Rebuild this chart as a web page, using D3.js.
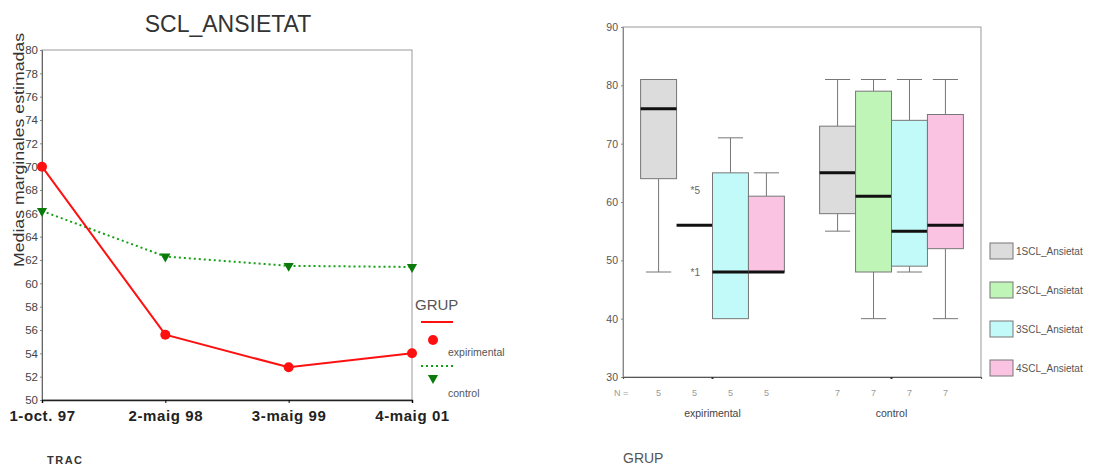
<!DOCTYPE html>
<html>
<head>
<meta charset="utf-8">
<script src="https://cdn.jsdelivr.net/npm/d3@7"></script>
<style>
  body { margin: 0; background: #fff; }
  svg { display: block; font-family: "Liberation Sans", Arial, sans-serif; }
</style>
</head>
<body>
<svg id="chart" width="1117" height="470"></svg>
<script>
// ---- data: left chart (estimated marginal means) ----
const trac = ["1-oct. 97", "2-maig 98", "3-maig 99", "4-maig 01"];
const expMeans = [70.0, 55.6, 52.8, 54.0];
const ctrlMeans = [66.2, 62.3, 61.5, 61.4];
const meanTicks = d3.range(50, 81, 2);

// ---- data: right chart (boxplots) ----
const groups = ["expirimental", "control"];
const scales = ["1SCL_Ansietat", "2SCL_Ansietat", "3SCL_Ansietat", "4SCL_Ansietat"];
// [low whisker, q1, median, q3, high whisker]
const expStats = [[48, 64, 76, 81, 81], [56, 56, 56, 56, 56], [40, 40, 48, 65, 71], [48, 48, 48, 61, 65]];
const ctrlStats = [[55, 58, 65, 73, 81], [40, 48, 61, 79, 81], [48, 49, 55, 74, 81], [40, 52, 56, 75, 81]];
const groupCounts = [[5, 5, 5, 5], [7, 7, 7, 7]];
const outlierValues = [62, 48];
const outlierCases = ["5", "1"];
const boxTicks = [30, 40, 50, 60, 70, 80, 90];
const boxColors = ["#dcdcdc", "#bff5b6", "#c2fafa", "#fbc3e2"];

var svg = d3.select("#chart");

// ================= left chart =================
var L = { left: 42, right: 412, top: 50, bottom: 400 };
var x = d3.scalePoint().domain(trac).range([L.left, L.right]).padding(0);
var y = d3.scaleLinear().domain([50, 80]).range([L.bottom, L.top]);

svg.append("text")
    .attr("x", 228).attr("y", 32)
    .attr("text-anchor", "middle")
    .style("font-size", "23px").style("fill", "#333")
    .text("SCL_ANSIETAT");

// frame
svg.append("rect")
    .attr("x", L.left).attr("y", L.top)
    .attr("width", L.right - L.left).attr("height", L.bottom - L.top)
    .attr("fill", "none").attr("stroke", "#999").attr("stroke-width", 1);

var yAxisL = svg.append("g")
    .attr("transform", `translate(${L.left},0)`)
    .call(d3.axisLeft(y).tickValues(meanTicks).tickSize(2).tickPadding(2));
yAxisL.select(".domain").attr("stroke", "#666");
yAxisL.selectAll("text").style("font-size", "11.5px").style("fill", "#444");
yAxisL.selectAll("line").attr("stroke", "#888");

var xAxisL = svg.append("g")
    .attr("transform", `translate(0,${L.bottom})`)
    .call(d3.axisBottom(x).tickSize(3).tickPadding(7));
xAxisL.select(".domain").attr("stroke", "#222").attr("stroke-width", 1.5);
xAxisL.selectAll("text")
    .style("font-size", "15px").style("font-weight", "bold")
    .style("letter-spacing", "0.6px").style("fill", "#222");

svg.append("text")
    .attr("transform", "translate(24,150) rotate(-90)")
    .attr("text-anchor", "middle")
    .attr("textLength", 234).attr("lengthAdjust", "spacingAndGlyphs")
    .style("font-size", "14px").style("fill", "#333")
    .text("Medias marginales estimadas");

svg.append("text")
    .attr("x", 47).attr("y", 464)
    .style("font-size", "11px").style("font-weight", "bold")
    .style("letter-spacing", "1.5px").style("fill", "#333")
    .text("TRAC");

var line = d3.line().x((d, i) => x(trac[i])).y(d => y(d));

svg.append("path").datum(ctrlMeans)
    .attr("d", line).attr("fill", "none")
    .attr("stroke", "#14a014").attr("stroke-width", 2).attr("stroke-dasharray", "2,3");
svg.append("path").datum(expMeans)
    .attr("d", line).attr("fill", "none")
    .attr("stroke", "#ff1010").attr("stroke-width", 2);

var tri = d3.symbol().type(d3.symbolTriangle).size(45);
svg.selectAll(".ctrlPt").data(ctrlMeans).enter().append("path")
    .attr("d", tri)
    .attr("transform", (d, i) => `translate(${x(trac[i])},${y(d)}) rotate(180)`)
    .attr("fill", "#0a7a0a");
svg.selectAll(".expPt").data(expMeans).enter().append("circle")
    .attr("cx", (d, i) => x(trac[i])).attr("cy", d => y(d)).attr("r", 5)
    .attr("fill", "#ff1010");

// legend
var lg = svg.append("g");
lg.append("text").attr("x", 415).attr("y", 310)
    .style("font-size", "15px").style("fill", "#555").text("GRUP");
lg.append("line").attr("x1", 421).attr("x2", 453).attr("y1", 322).attr("y2", 322)
    .attr("stroke", "#ff1010").attr("stroke-width", 2);
lg.append("circle").attr("cx", 433).attr("cy", 340).attr("r", 5).attr("fill", "#ff1010");
lg.append("text").attr("x", 448).attr("y", 356)
    .style("font-size", "10.5px").style("fill", "#555").text("expirimental");
lg.append("line").attr("x1", 421).attr("x2", 453).attr("y1", 366).attr("y2", 366)
    .attr("stroke", "#14a014").attr("stroke-width", 2).attr("stroke-dasharray", "2,3");
lg.append("path").attr("d", tri)
    .attr("transform", "translate(433,378) rotate(180)").attr("fill", "#0a7a0a");
lg.append("text").attr("x", 448).attr("y", 397)
    .style("font-size", "10.5px").style("fill", "#555").text("control");

// ================= right chart =================
var R = { left: 623, right: 981, top: 27, bottom: 377 };
var gx = d3.scaleBand().domain(groups).range([R.left, R.right]);
var sx = d3.scaleBand().domain(scales).range([0, gx.bandwidth()]).paddingOuter(0.49).paddingInner(0);
var yb = d3.scaleLinear().domain([30, 90]).range([R.bottom, R.top]);

svg.append("rect")
    .attr("x", R.left).attr("y", R.top)
    .attr("width", R.right - R.left).attr("height", R.bottom - R.top)
    .attr("fill", "none").attr("stroke", "#999");

var yAxisR = svg.append("g")
    .attr("transform", `translate(${R.left},0)`)
    .call(d3.axisLeft(yb).tickValues(boxTicks).tickSize(2).tickPadding(3));
yAxisR.select(".domain").attr("stroke", "#888");
yAxisR.selectAll("text").style("font-size", "10.5px").style("fill", "#555");
yAxisR.selectAll("line").attr("stroke", "#888");

var xAxisR = svg.append("g")
    .attr("transform", `translate(0,${R.bottom})`)
    .call(d3.axisBottom(gx).tickSize(2).tickFormat(""));
xAxisR.select(".domain").attr("stroke", "#555").attr("stroke-width", 1.2);
xAxisR.selectAll("line").attr("stroke", "#333").attr("stroke-width", 2);

var allStats = [expStats, ctrlStats];
var bw = sx.bandwidth();
groups.forEach(function (grp, gi) {
    var g = svg.append("g").attr("transform", `translate(${gx(grp)},0)`);
    var boxes = g.selectAll(".box").data(allStats[gi]).enter().append("g")
        .attr("transform", (d, i) => `translate(${sx(scales[i])},0)`);
    // whiskers
    boxes.append("line").attr("x1", bw / 2).attr("x2", bw / 2)
        .attr("y1", d => yb(d[4])).attr("y2", d => yb(d[3])).attr("stroke", "#777");
    boxes.append("line").attr("x1", bw / 2).attr("x2", bw / 2)
        .attr("y1", d => yb(d[1])).attr("y2", d => yb(d[0])).attr("stroke", "#777");
    boxes.filter(d => d[4] > d[3]).append("line")
        .attr("x1", bw * 0.15).attr("x2", bw * 0.85)
        .attr("y1", d => yb(d[4])).attr("y2", d => yb(d[4])).attr("stroke", "#777");
    boxes.filter(d => d[0] < d[1]).append("line")
        .attr("x1", bw * 0.15).attr("x2", bw * 0.85)
        .attr("y1", d => yb(d[0])).attr("y2", d => yb(d[0])).attr("stroke", "#777");
    // box
    boxes.filter(d => d[3] > d[1]).append("rect")
        .attr("x", 0).attr("width", bw)
        .attr("y", d => yb(d[3])).attr("height", d => yb(d[1]) - yb(d[3]))
        .attr("fill", d => boxColors[allStats[gi].indexOf(d)])
        .attr("stroke", "#777");
    // median
    boxes.append("line").attr("x1", 0).attr("x2", bw)
        .attr("y1", d => yb(d[2])).attr("y2", d => yb(d[2]))
        .attr("stroke", "#111").attr("stroke-width", 3);
    // N counts
    g.selectAll(".n").data(groupCounts[gi]).enter().append("text")
        .attr("x", (d, i) => sx(scales[i]) + bw / 2).attr("y", 396)
        .attr("text-anchor", "middle")
        .style("font-size", "9px").style("fill", "#999").text(d => d);
    g.append("text").attr("x", gx.bandwidth() / 2).attr("y", 417)
        .attr("text-anchor", "middle")
        .style("font-size", "10.5px").style("fill", "#444").text(grp);
});

// outliers (experimental, 2SCL)
var ox = gx("expirimental") + sx("2SCL_Ansietat") + bw / 2;
svg.selectAll(".out").data(outlierValues).enter().append("text")
    .attr("x", ox - 4).attr("y", d => yb(d) + 4)
    .style("font-size", "10px").style("fill", "#666")
    .text((d, i) => "*" + outlierCases[i]);

svg.append("text").attr("x", 614).attr("y", 396)
    .style("font-size", "9px").style("fill", "#999").text("N =");

svg.append("text").attr("x", 623).attr("y", 463)
    .style("font-size", "14px").style("fill", "#555").text("GRUP");

// legend
var rl = svg.selectAll(".rleg").data(scales).enter().append("g")
    .attr("transform", (d, i) => `translate(990,${243 + i * 39})`);
rl.append("rect").attr("width", 23).attr("height", 16)
    .attr("fill", (d, i) => boxColors[i]).attr("stroke", "#777");
rl.append("text").attr("x", 26).attr("y", 12)
    .style("font-size", "10px").style("fill", "#555").text(d => d);
</script>
</body>
</html>
